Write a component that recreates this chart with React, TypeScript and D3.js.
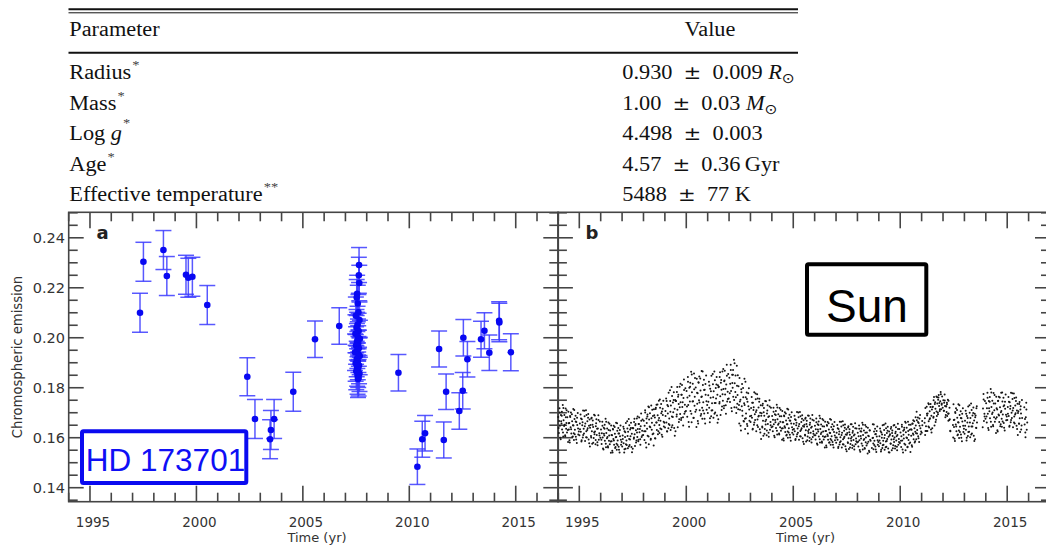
import React from "react";
import * as d3 from "d3";

// ---- Table of stellar parameters ----
const paramLabels = ["Radius", "Mass", "Log ", "Age", "Effective temperature"];
const paramItalic = ["", "", "g", "", ""];
const paramMarks = ["*", "*", "*", "*", "**"];
const paramNumbers = ["0.930", "1.00", "4.498", "4.57", "5488"];
const paramErrors = ["0.009", "0.03", "0.003", "0.36", "77"];
const paramUnits = ["R", "M", "", "Gyr", "K"];
const paramSolarUnit = [true, true, false, false, false];

// ---- HD 173701 chromospheric emission (time in yr, value, 1-sigma error) ----
const hdTime = [
  1997.35, 1997.51, 1998.45, 1998.61, 1999.51, 1999.62, 1999.81, 2000.51,
  2002.39, 2002.75, 2003.46, 2003.5, 2003.65, 2004.55, 2005.57, 2006.71,
  2007.64, 2007.63, 2007.65, 2007.55, 2007.53, 2007.58, 2007.61, 2007.49, 2007.66, 2007.57,
  2007.52, 2007.62, 2007.47, 2007.59, 2007.68, 2007.54, 2007.6, 2007.5, 2007.63, 2007.56,
  2007.45, 2007.61, 2007.67, 2007.53, 2007.58, 2007.48, 2007.64, 2007.55, 2007.6, 2007.51,
  2007.66, 2007.57, 2007.62, 2007.59,
  2009.49, 2010.38, 2010.61, 2010.74, 2011.4, 2011.62, 2011.73, 2012.35, 2012.51, 2012.54,
  2012.73, 2013.37, 2013.53, 2013.76, 2014.22, 2014.23, 2014.77,
];
const hdEmission = [
  0.21, 0.2304, 0.2351, 0.2247, 0.2252, 0.224, 0.2244, 0.2131,
  0.1844, 0.1675, 0.1594, 0.1631, 0.1675, 0.1784, 0.1994, 0.2047,
  0.2291, 0.225, 0.2219, 0.2176, 0.2161, 0.2137, 0.2102, 0.2088, 0.2071, 0.2052,
  0.204, 0.2027, 0.2016, 0.2003, 0.1996, 0.1984, 0.1977, 0.1969, 0.1958, 0.1951,
  0.1942, 0.1933, 0.1927, 0.1915, 0.1906, 0.1898, 0.1889, 0.1881, 0.1872, 0.1866,
  0.1857, 0.1849, 0.184, 0.1835,
  0.186, 0.1484, 0.1594, 0.1618, 0.1955, 0.1591, 0.1784, 0.1707, 0.1788, 0.2,
  0.1914, 0.1994, 0.2028, 0.194, 0.2068, 0.2061, 0.1942,
];
const hdError = [
  0.0078, 0.0078, 0.0078, 0.0078, 0.0078, 0.0078, 0.0078, 0.0078,
  0.0076, 0.0078, 0.0078, 0.0078, 0.0078, 0.0078, 0.0073, 0.0073,
  0.007, 0.0072, 0.0071, 0.0074, 0.0072, 0.0073, 0.0071, 0.0075, 0.0072, 0.0074,
  0.0073, 0.0071, 0.0076, 0.0072, 0.0074, 0.0073, 0.0071, 0.0075, 0.0072, 0.0074,
  0.0073, 0.0072, 0.0075, 0.0071, 0.0074, 0.0072, 0.0073, 0.0075, 0.0071, 0.0074,
  0.0072, 0.0075, 0.0073, 0.0074,
  0.0073, 0.0071, 0.0072, 0.0071, 0.0072, 0.0072, 0.0071, 0.0073, 0.0073, 0.0073,
  0.0071, 0.0072, 0.0072, 0.0071, 0.0076, 0.0077, 0.0074,
];

// ---- Solar chromospheric emission: per year, "thousandths-of-year:value×1e4" ----
const sunSeasons: [number, string][] = [
  [1994, "14:1683 45:1619 54:1667 76:1718 93:1648 131:1594 142:1691 168:1657 187:1704 195:1633 228:1731 249:1605 264:1670 291:1647 303:1691 344:1606 362:1717 386:1636 396:1659 425:1621 441:1682 476:1583 489:1704 512:1633 532:1659 539:1590 569:1687 594:1642 608:1701 627:1617 664:1666 675:1603 703:1650 719:1715 741:1618 750:1591 776:1675 794:1632 825:1688 838:1604 862:1663 883:1579 904:1651 927:1699 951:1613 978:1625"],
  [1995, "6:1610 27:1657 58:1693 71:1624 99:1585 117:1674 138:1650 163:1601 176:1709 204:1636 219:1617 247:1686 270:1587 281:1657 312:1710 329:1626 351:1601 377:1666 392:1638 418:1695 436:1593 455:1648 481:1673 497:1565 523:1651 548:1607 561:1677 587:1626 603:1576 631:1669 646:1643 672:1599 689:1692 712:1614 734:1625 758:1574 771:1646 799:1674 815:1611 846:1582 869:1637 891:1690 912:1592 936:1618 958:1665 985:1600"],
  [1996, "14:1633 45:1575 54:1618 76:1664 93:1601 131:1553 142:1640 168:1609 187:1652 195:1588 228:1676 249:1562 264:1619 291:1598 303:1637 344:1561 362:1661 386:1588 396:1609 425:1574 441:1629 476:1540 489:1649 512:1586 532:1610 539:1548 569:1635 594:1595 608:1648 627:1572 664:1616 675:1559 703:1602 719:1660 741:1576 750:1552 776:1628 794:1589 825:1639 838:1564 862:1617 883:1541 904:1606 927:1649 951:1572 978:1583"],
  [1997, "6:1565 27:1609 58:1644 71:1578 99:1541 117:1626 138:1603 163:1556 176:1659 204:1589 219:1571 247:1637 270:1558 281:1624 312:1675 329:1595 351:1571 377:1633 392:1606 418:1660 436:1563 455:1616 481:1639 497:1556 523:1638 548:1596 561:1663 587:1614 603:1567 631:1655 646:1630 672:1589 689:1677 712:1603 734:1635 758:1586 771:1655 799:1681 815:1622 846:1594 869:1646 891:1697 912:1603 936:1628 958:1673 985:1611"],
  [1998, "14:1668 45:1591 54:1648 76:1710 93:1626 131:1561 142:1677 168:1636 187:1693 195:1608 228:1725 249:1574 264:1673 291:1645 303:1698 344:1596 362:1729 386:1632 396:1660 425:1614 441:1687 476:1569 489:1714 512:1650 532:1681 539:1598 569:1715 594:1661 608:1732 627:1631 664:1690 675:1614 703:1670 719:1748 741:1651 750:1619 776:1720 794:1668 825:1735 838:1634 862:1705 883:1604 904:1691 927:1748 951:1645 978:1660"],
  [1999, "6:1641 27:1707 58:1757 71:1661 99:1626 117:1731 138:1697 163:1638 176:1780 204:1677 219:1651 247:1747 270:1631 281:1729 312:1803 329:1685 351:1650 377:1741 392:1702 418:1782 436:1639 455:1716 481:1751 497:1626 523:1747 548:1685 561:1783 587:1712 603:1642 631:1772 646:1735 672:1674 689:1804 712:1695 734:1742 758:1671 771:1772 799:1811 815:1723 846:1682 869:1759 891:1833 912:1696 936:1732 958:1798 985:1707"],
  [2000, "14:1787 45:1684 54:1761 76:1843 93:1731 131:1644 142:1800 168:1745 187:1820 195:1707 228:1864 249:1662 264:1782 291:1745 303:1816 344:1680 362:1857 386:1728 396:1764 425:1704 441:1801 476:1643 489:1836 512:1736 532:1778 539:1667 569:1822 594:1750 608:1845 627:1710 664:1789 675:1688 703:1763 719:1867 741:1720 750:1676 776:1811 794:1742 825:1832 838:1697 862:1792 883:1657 904:1772 927:1849 951:1712 978:1731"],
  [2001, "6:1699 27:1770 58:1824 71:1720 99:1662 117:1796 138:1760 163:1686 176:1848 204:1738 219:1710 247:1814 270:1680 281:1786 312:1865 329:1739 351:1701 377:1799 392:1757 418:1843 436:1689 455:1772 481:1810 497:1674 523:1804 548:1737 561:1843 587:1766 603:1691 631:1831 646:1792 672:1725 689:1865 712:1748 734:1795 758:1718 771:1826 799:1868 815:1773 846:1730 869:1813 891:1892 912:1745 936:1784 958:1855 985:1757"],
  [2002, "14:1840 45:1743 54:1816 76:1892 93:1787 131:1706 142:1852 168:1800 187:1871 195:1764 228:1912 249:1722 264:1818 291:1783 303:1849 344:1721 362:1888 386:1736 396:1771 425:1714 441:1806 476:1657 489:1839 512:1712 532:1752 539:1648 569:1794 594:1726 608:1815 627:1688 664:1762 675:1667 703:1738 719:1836 741:1676 750:1635 776:1762 794:1697 825:1781 838:1655 862:1744 883:1617 904:1726 927:1798 951:1668 978:1686"],
  [2003, "6:1663 27:1719 58:1763 71:1680 99:1633 117:1740 138:1711 163:1652 176:1782 204:1694 219:1671 247:1754 270:1626 281:1710 312:1774 329:1673 351:1643 377:1721 392:1688 418:1756 436:1634 455:1700 481:1730 497:1595 523:1698 548:1645 561:1729 587:1668 603:1608 631:1719 646:1688 672:1635 689:1747 712:1653 734:1672 758:1610 771:1697 799:1730 815:1655 846:1620 869:1686 891:1750 912:1632 936:1663 958:1720 985:1642"],
  [2004, "14:1687 45:1626 54:1672 76:1720 93:1654 131:1602 142:1694 168:1662 187:1707 195:1639 228:1732 249:1613 264:1674 291:1652 303:1694 344:1613 362:1719 386:1642 396:1664 425:1628 441:1686 476:1592 489:1707 512:1638 532:1662 539:1597 569:1689 594:1646 608:1702 627:1623 664:1669 675:1609 703:1654 719:1716 741:1625 750:1600 776:1679 794:1638 825:1692 838:1612 862:1668 883:1588 904:1657 927:1702 951:1620 978:1632"],
  [2005, "6:1613 27:1656 58:1688 71:1626 99:1591 117:1671 138:1650 163:1605 176:1703 204:1637 219:1620 247:1682 270:1592 281:1655 312:1703 329:1627 351:1605 377:1663 392:1638 418:1690 436:1598 455:1647 481:1670 497:1575 523:1652 548:1612 561:1676 587:1630 603:1585 631:1668 646:1645 672:1605 689:1689 712:1619 734:1633 758:1587 771:1652 799:1677 815:1620 846:1594 869:1644 891:1691 912:1603 936:1626 958:1669 985:1610"],
  [2006, "14:1648 45:1593 54:1634 76:1677 93:1618 131:1572 142:1654 168:1625 187:1665 195:1605 228:1688 249:1581 264:1635 291:1615 303:1653 344:1580 362:1675 386:1606 396:1625 425:1593 441:1645 476:1561 489:1664 512:1605 532:1627 539:1569 569:1651 594:1613 608:1663 627:1592 664:1633 675:1580 703:1620 719:1675 741:1595 750:1572 776:1643 794:1606 825:1654 838:1583 862:1633 883:1561 904:1623 927:1663 951:1590 978:1601"],
  [2007, "6:1580 27:1620 58:1651 71:1592 99:1559 117:1635 138:1614 163:1573 176:1664 204:1602 219:1586 247:1645 270:1561 281:1620 312:1666 329:1594 351:1573 377:1628 392:1604 418:1653 436:1566 455:1613 481:1634 497:1546 523:1619 548:1582 561:1641 587:1598 603:1555 631:1634 646:1612 672:1575 689:1654 712:1588 734:1603 758:1559 771:1620 799:1644 815:1591 846:1566 869:1613 891:1658 912:1574 936:1597 958:1637 985:1581"],
  [2008, "14:1620 45:1565 54:1606 76:1649 93:1590 131:1544 142:1626 168:1597 187:1637 195:1577 228:1660 249:1553 264:1611 291:1591 303:1629 344:1556 362:1651 386:1582 396:1601 425:1569 441:1621 476:1537 489:1640 512:1584 532:1606 539:1548 569:1630 594:1592 675:1559 703:1599 719:1654 741:1577 750:1554 776:1625 794:1588 825:1636 838:1565 862:1615 883:1543 904:1605 927:1645 951:1572 978:1583"],
  [2009, "6:1566 27:1606 58:1637 71:1578 99:1545 117:1621 138:1600 163:1559 176:1650 204:1588 219:1572 247:1631 270:1552 281:1611 312:1657 329:1585 351:1564 377:1619 392:1595 418:1644 436:1557 455:1604 481:1625 497:1541 523:1614 548:1577 561:1636 587:1593 603:1550 631:1629 646:1607 672:1570 689:1649 712:1583 734:1601 758:1557 771:1618 799:1642 815:1589 846:1564 869:1611 891:1656 912:1572 936:1595 958:1635 985:1579"],
  [2010, "14:1621 45:1563 54:1606 76:1652 93:1589 131:1541 142:1628 168:1597 187:1640 195:1576 228:1664 249:1550 264:1622 291:1601 303:1640 344:1564 362:1664 386:1591 396:1612 425:1577 441:1632 476:1543 489:1652 512:1608 532:1632 539:1570 569:1657 594:1617 608:1670 627:1594 664:1638 675:1581 703:1624 719:1682 741:1618 750:1594 776:1670 794:1631 825:1681 838:1606 862:1659 883:1583 904:1648 927:1691 951:1614 978:1625"],
  [2011, "6:1620 27:1667 138:1660 163:1611 176:1719 204:1646 219:1627 247:1696 270:1627 281:1697 312:1738 329:1666 351:1641 377:1706 392:1678 418:1735 436:1633 455:1688 481:1713 497:1638 523:1724 548:1680 561:1750 587:1699 603:1649 631:1742 646:1716 672:1672 689:1765 712:1687 734:1737 758:1701 771:1752 799:1771 815:1727 846:1707 869:1746 891:1783 912:1714 936:1732 958:1765 985:1720"],
  [2012, "14:1750 45:1708 54:1740 76:1773 93:1727 131:1691 142:1725 168:1703 187:1734 195:1687 228:1752 249:1668 264:1697 291:1671 303:1720 344:1626 476:1601 489:1734 512:1643 532:1672 539:1596 569:1703 594:1653 608:1718 627:1626 664:1680 675:1610 703:1662 719:1734 741:1629 750:1599 776:1691 794:1644 825:1706 838:1613 862:1678 883:1586 904:1665 927:1718 951:1623 978:1636"],
  [2013, "6:1616 27:1668 58:1708 71:1632 99:1589 117:1687 138:1661 163:1607 176:1725 204:1645 219:1624 247:1700 270:1602 281:1679 312:1737 329:1645 351:1617 377:1689 392:1658 418:1721 436:1608 455:1669 481:1696 497:1594 523:1689 548:1640 561:1718 587:1661 869:1717 891:1775 912:1667 936:1696 958:1747 985:1676"],
  [2014, "14:1738 45:1661 54:1718 76:1780 93:1696 131:1631 142:1747 168:1706 187:1763 195:1678 228:1795 249:1644 264:1723 291:1695 303:1748 344:1646 362:1779 386:1682 396:1710 425:1664 441:1737 476:1619 489:1764 512:1682 532:1713 539:1630 569:1747 594:1693 608:1764 627:1663 664:1722 675:1646 703:1702 719:1780 741:1676 750:1644 776:1745 794:1693 825:1760 838:1659 862:1730 883:1629 904:1716 927:1773 951:1670 978:1685"],
  [2015, "6:1671 27:1723 58:1763 71:1687 99:1644 117:1742 138:1716 163:1662 176:1780 204:1700 219:1679 247:1755 270:1642 281:1719 312:1777 329:1685 351:1657 377:1729 392:1698 418:1761 436:1648 455:1709 481:1736 497:1611 523:1706 548:1657 561:1735 587:1678 603:1623 631:1726 646:1697 672:1649 689:1751 799:1722 815:1653 846:1621 869:1682 891:1740 912:1632 936:1661"],
];

// Further solar nights, same encoding
const sunSeasonsMore: [number, string][] = [
  [1994, "33:1639 81:1701 109:1600 152:1666 181:1688 238:1621 257:1719 318:1652 337:1610 371:1682 409:1710 463:1631 504:1658 556:1581 578:1683 617:1634 653:1694 696:1605 727:1649 765:1711 787:1614 831:1665 855:1593 897:1680 943:1637"],
  [1995, "33:1634 81:1677 109:1590 152:1662 181:1611 238:1708 257:1646 318:1602 337:1691 371:1631 409:1680 463:1578 504:1640 556:1601 578:1680 617:1652 653:1580 696:1622 727:1689 765:1591 787:1658 831:1636 855:1570 897:1671 943:1609"],
  [1996, "33:1592 81:1648 109:1557 152:1616 181:1636 238:1576 257:1664 318:1603 337:1566 371:1631 409:1656 463:1585 504:1611 556:1541 578:1633 617:1589 653:1643 696:1563 727:1603 765:1658 787:1571 831:1617 855:1552 897:1631 943:1592"],
  [1997, "33:1595 81:1636 109:1554 152:1622 181:1574 238:1666 257:1607 318:1565 337:1650 371:1593 409:1639 463:1542 504:1638 556:1601 578:1676 617:1650 653:1581 696:1621 727:1685 765:1592 787:1655 831:1635 855:1572 897:1668 943:1609"],
  [1998, "33:1626 81:1701 109:1580 152:1659 181:1685 238:1605 257:1722 318:1642 337:1592 371:1678 409:1712 463:1617 504:1690 556:1597 578:1720 617:1661 653:1733 696:1626 727:1679 765:1753 787:1637 831:1698 855:1612 897:1716 943:1664"],
  [1999, "33:1687 81:1747 109:1625 152:1726 181:1655 238:1790 257:1704 318:1642 337:1767 371:1683 409:1751 463:1608 504:1747 556:1693 578:1803 617:1764 653:1663 696:1722 727:1816 765:1679 787:1772 831:1742 855:1649 897:1791 943:1704"],
  [2000, "33:1725 81:1824 109:1663 152:1768 181:1804 238:1696 257:1853 318:1746 337:1679 371:1794 409:1839 463:1712 504:1780 556:1657 578:1820 617:1741 653:1837 696:1695 727:1765 765:1865 787:1709 831:1791 855:1676 897:1815 943:1746"],
  [2001, "33:1744 81:1809 109:1678 152:1786 181:1709 238:1855 257:1762 318:1696 337:1830 371:1739 409:1813 463:1660 504:1802 556:1743 578:1862 617:1820 653:1711 696:1774 727:1875 765:1728 787:1829 831:1796 855:1696 897:1848 943:1755"],
  [2002, "33:1778 81:1871 109:1719 152:1819 181:1852 238:1751 257:1898 318:1762 337:1699 371:1808 409:1850 463:1731 504:1745 556:1629 578:1782 617:1708 653:1799 696:1665 727:1731 765:1824 787:1678 831:1755 855:1647 897:1778 943:1713"],
  [2003, "33:1688 81:1740 109:1636 152:1722 181:1661 238:1777 257:1703 318:1650 337:1757 371:1685 409:1744 463:1621 504:1688 556:1641 578:1736 617:1702 653:1616 696:1666 727:1746 765:1629 787:1709 831:1683 855:1604 897:1725 943:1650"],
  [2004, "33:1645 81:1704 109:1608 152:1671 181:1691 238:1628 257:1721 318:1657 337:1617 371:1686 409:1712 463:1637 504:1662 556:1589 578:1686 617:1640 653:1697 696:1612 727:1654 765:1713 787:1621 831:1669 855:1601 897:1683 943:1642"],
  [2005, "33:1635 81:1674 109:1595 152:1660 181:1614 238:1701 257:1646 318:1606 337:1686 371:1632 409:1676 463:1584 504:1644 556:1609 578:1680 617:1655 653:1590 696:1627 727:1688 765:1600 787:1660 831:1640 855:1581 897:1672 943:1616"],
  [2006, "33:1610 81:1662 109:1577 152:1633 181:1651 238:1594 257:1678 318:1621 337:1585 371:1646 409:1670 463:1603 504:1627 556:1562 578:1648 617:1607 653:1658 696:1582 727:1619 765:1672 787:1590 831:1633 855:1572 897:1646 943:1609"],
  [2007, "33:1601 81:1638 109:1564 152:1625 181:1582 238:1664 257:1611 318:1574 337:1650 371:1599 409:1640 463:1554 504:1612 556:1579 578:1646 617:1622 653:1561 696:1597 727:1654 765:1570 787:1627 831:1609 855:1553 897:1638 943:1586"],
  [2008, "33:1584 81:1636 109:1551 152:1607 181:1625 238:1568 257:1652 318:1595 337:1559 371:1620 409:1644 463:1577 504:1608 556:1543 578:1629 617:1588 727:1600 765:1653 787:1571 831:1614 855:1553 897:1627 943:1590"],
  [2009, "33:1589 81:1626 109:1552 152:1613 181:1570 238:1652 257:1599 318:1562 337:1638 371:1587 409:1628 463:1542 504:1609 556:1576 578:1643 617:1619 653:1558 696:1594 727:1651 765:1567 787:1624 831:1606 855:1550 897:1635 943:1583"],
  [2010, "33:1588 81:1644 109:1553 152:1612 181:1632 238:1572 257:1660 318:1599 337:1562 371:1627 409:1652 463:1581 504:1634 556:1564 578:1656 617:1612 653:1666 696:1586 727:1649 765:1704 787:1617 831:1663 855:1598 897:1677 943:1638"],
  [2011, "33:1650 152:1678 181:1627 238:1724 257:1689 318:1645 337:1734 371:1674 409:1723 463:1621 504:1723 556:1684 578:1763 617:1735 653:1663 696:1705 727:1762 765:1694 787:1761 831:1739 855:1714 897:1774 943:1737"],
  [2012, "33:1708 81:1749 109:1682 152:1726 181:1740 238:1696 257:1748 318:1674 337:1628 463:1651 504:1671 556:1587 578:1699 617:1645 653:1711 696:1613 727:1661 765:1730 787:1623 831:1679 855:1600 897:1696 943:1648"],
  [2013, "33:1648 81:1696 109:1600 152:1679 181:1623 238:1730 257:1661 318:1613 337:1711 371:1645 409:1699 463:1587 504:1682 556:1639 578:1726 855:1642 897:1753 943:1685"],
  [2014, "33:1685 81:1760 109:1639 152:1718 181:1744 238:1664 257:1781 318:1701 337:1651 371:1737 409:1771 463:1676 504:1718 556:1625 578:1748 617:1689 653:1761 696:1654 727:1707 765:1781 787:1665 831:1726 855:1640 897:1744 943:1692"],
  [2015, "33:1696 81:1744 109:1648 152:1727 181:1671 238:1778 257:1709 318:1661 337:1759 371:1693 409:1747 463:1635 504:1699 556:1656 578:1743 617:1713 653:1633 696:1679 831:1675 855:1602 897:1713"],
];

const sunPoints = [...sunSeasons, ...sunSeasonsMore].flatMap(([year, s]) =>
  s.split(" ").map((tok) => {
    const [t, v] = tok.split(":");
    return { t: year + Number(t) / 1000, v: Number(v) / 1e4 };
  })
);

const majorYears = [1995, 2000, 2005, 2010, 2015];
const yearDomain: [number, number] = [1994, 2017];
const emissionDomain: [number, number] = [0.1344, 0.2502];

// ---- layout ----
const W = 1046;
const H = 545;
const top = 212.3;
const bottom = 501.7;
const axisColor = "#454545";
const sans = "'DejaVu Sans', sans-serif";
const serif = "'Liberation Serif', 'Times New Roman', serif";

const yScale = d3.scaleLinear().domain(emissionDomain).range([bottom, top]);
const xA = d3.scaleLinear().domain(yearDomain).range([68.7, 558.3]);
const xB = d3.scaleLinear().domain(yearDomain).range([557.9, 1050]);

const yMajor = yScale.ticks(6);
const yMinor = yScale.ticks(25).filter((v) => !yMajor.some((m) => Math.abs(m - v) < 1e-9));
const yearTicks = d3.range(yearDomain[0], yearDomain[1] + 1);

function Frame({ x, labels }: { x: d3.ScaleLinear<number, number>; labels: boolean }) {
  const [x0, x1] = x.range();
  const line = { stroke: axisColor, strokeWidth: 1.6 };
  return (
    <g>
      <rect x={x0} y={top} width={x1 - x0} height={bottom - top} fill="none" {...line} />
      {yearTicks.map((t) => {
        const major = majorYears.includes(t);
        const len = major ? 16 : 9;
        const px = x(t);
        return (
          <g key={"x" + t}>
            <line x1={px} x2={px} y1={bottom} y2={bottom - len} {...line} />
            <line x1={px} x2={px} y1={top} y2={top + len} {...line} />
          </g>
        );
      })}
      {[...yMajor.map((v) => [v, 15]), ...yMinor.map((v) => [v, 9])].map(([v, len]) => {
        const py = yScale(v);
        return (
          <g key={"y" + v}>
            <line x1={x0} x2={x0 + len} y1={py} y2={py} {...line} />
            <line x1={x1} x2={x1 - len} y1={py} y2={py} {...line} />
          </g>
        );
      })}
      {majorYears.map((t) => (
        <text key={"xl" + t} x={x(t) + 3} y={527} textAnchor="middle" fontFamily={sans} fontSize={13.5} fill="#333">
          {t}
        </text>
      ))}
      <text x={(x0 + Math.min(x1, W)) / 2 + 3.5} y={541.5} textAnchor="middle" fontFamily={sans} fontSize={13} fill="#333">
        Time (yr)
      </text>
      {labels &&
        yMajor.map((v) => (
          <text key={"yl" + v} x={65} y={yScale(v) + 5.2} textAnchor="end" fontFamily={sans} fontSize={14.5} fill="#333">
            {v.toFixed(2)}
          </text>
        ))}
    </g>
  );
}

function Table() {
  const rowY = [79.3, 109.8, 140.2, 170.6, 201];
  const stretch = "scale(1.115,1)";
  return (
    <g fontFamily={serif} fill="#111">
      <line x1={68.5} x2={798} y1={9.2} y2={9.2} stroke="#111" strokeWidth={2} />
      <line x1={68.5} x2={798} y1={12.8} y2={12.8} stroke="#111" strokeWidth={1} />
      <line x1={68.5} x2={798} y1={52.7} y2={52.7} stroke="#111" strokeWidth={2} />
      <text transform={`translate(69.3,36) ${stretch}`} fontSize={20}>Parameter</text>
      <text transform={`translate(710,36) ${stretch}`} fontSize={20} textAnchor="middle">Value</text>
      {paramLabels.map((name, i) => (
        <g key={name}>
          <text transform={`translate(69.3,${rowY[i]}) ${stretch}`} fontSize={20}>
            {name}
            {paramItalic[i] && <tspan fontStyle="italic">{paramItalic[i]}</tspan>}
            <tspan fontSize={13} fill="#444" dy={paramItalic[i] ? -13 : -10} dx={1}>{paramMarks[i]}</tspan>
          </text>
          <text transform={`translate(622.3,${rowY[i]}) ${stretch}`} fontSize={20} xmlSpace="preserve">
            {paramNumbers[i] + "\u2002"}
            <tspan fontFamily="'DejaVu Serif', serif" fontSize={19}>±</tspan>
            {"\u2002" + paramErrors[i]}
            {paramSolarUnit[i] ? (
              <>
                <tspan fontStyle="italic">{" " + paramUnits[i]}</tspan>
                <tspan fontSize={14} dy={4} fontFamily="'DejaVu Sans', sans-serif">⊙</tspan>
              </>
            ) : paramUnits[i] ? (
              (paramUnits[i] === "Gyr" ? "\u2009" : " ") + paramUnits[i]
            ) : null}
          </text>
        </g>
      ))}
    </g>
  );
}

export default function App() {
  const capHalf = 8;
  return (
    <svg
      width={W}
      height={H}
      viewBox={`0 0 ${W} ${H}`}
      style={{ position: "absolute", left: 0, top: 0, background: "#fff" }}
    >
      <rect x={0} y={0} width={W} height={H} fill="#fff" />
      <Table />

      {/* panel a: HD 173701 */}
      <Frame x={xA} labels={true} />
      <g stroke="#3b3bff" strokeWidth={1.5} strokeOpacity={0.85}>
        {hdTime.map((t, i) => {
          const px = xA(t);
          const lo = yScale(hdEmission[i] - hdError[i]);
          const hi = yScale(hdEmission[i] + hdError[i]);
          return (
            <g key={"e" + i}>
              <line x1={px} x2={px} y1={lo} y2={hi} />
              <line x1={px - capHalf} x2={px + capHalf} y1={lo} y2={lo} />
              <line x1={px - capHalf} x2={px + capHalf} y1={hi} y2={hi} />
            </g>
          );
        })}
      </g>
      <g fill="#0808f2">
        {hdTime.map((t, i) => (
          <circle key={"p" + i} cx={xA(t)} cy={yScale(hdEmission[i])} r={3.3} />
        ))}
      </g>
      <text x={96.5} y={239} fontFamily={sans} fontWeight="bold" fontSize={18} fill="#222">a</text>
      <rect x={82} y={431.3} width={164.3} height={51.7} fill="none" stroke="#0a0af0" strokeWidth={4} rx={1.5} />
      <text x={165.5} y={470.7} textAnchor="middle" fontFamily="'Liberation Sans', Arial, sans-serif" fontSize={31.5} fill="#0f0ff5">
        HD 173701
      </text>

      {/* panel b: Sun */}
      <Frame x={xB} labels={false} />
      <g fill="#151515">
        {sunPoints.map((p, i) => (
          <circle key={"s" + i} cx={xB(p.t)} cy={yScale(p.v)} r={1.0} />
        ))}
      </g>
      <text x={585.5} y={239} fontFamily={sans} fontWeight="bold" fontSize={18} fill="#222">b</text>
      <rect x={807} y={264.3} width={119.3} height={70.4} fill="none" stroke="#000" strokeWidth={4} rx={1.5} />
      <text x={867} y={321.7} textAnchor="middle" fontFamily="'Liberation Sans', Arial, sans-serif" fontSize={46} fill="#000">
        Sun
      </text>

      {/* shared y-axis title */}
      <text
        transform={`translate(21.5,${(top + bottom) / 2}) rotate(-90)`}
        textAnchor="middle"
        fontFamily={sans}
        fontSize={13.2}
        fill="#333"
      >
        Chromospheric emission
      </text>
    </svg>
  );
}
